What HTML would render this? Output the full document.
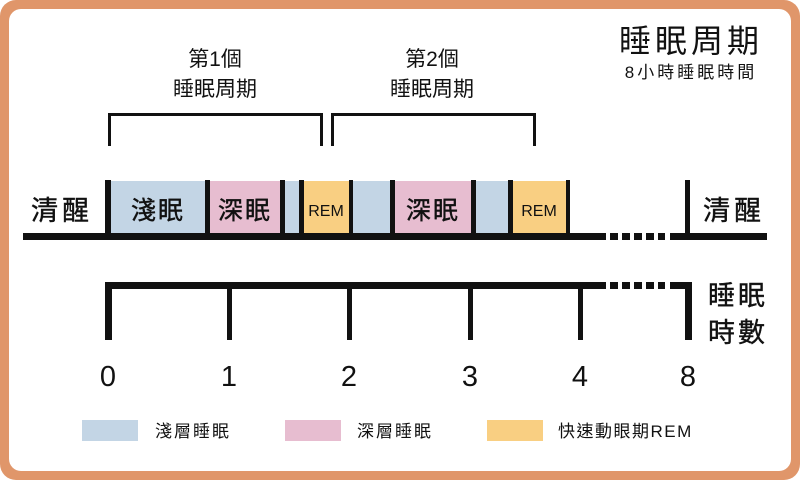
<!DOCTYPE html>
<html><head><meta charset="utf-8"><style>
html,body{margin:0;padding:0;width:800px;height:480px;overflow:hidden;background:#fff}
svg text{font-family:"Liberation Sans","Noto Sans CJK TC",sans-serif;fill:#111}
</style></head><body>
<svg width="800" height="480" xmlns="http://www.w3.org/2000/svg">
<rect x="0" y="0" width="800" height="480" rx="16" fill="#E0966A"/>
<rect x="9" y="9" width="782" height="462" rx="12" fill="#fff"/>
<text x="691" y="52" font-size="32" text-anchor="middle" letter-spacing="4">睡眠周期</text>
<text x="691" y="78" font-size="17" text-anchor="middle" letter-spacing="3">8小時睡眠時間</text>
<text x="215" y="66" font-size="21" text-anchor="middle">第1個</text>
<text x="215" y="96" font-size="21" text-anchor="middle">睡眠周期</text>
<text x="432" y="66" font-size="21" text-anchor="middle">第2個</text>
<text x="432" y="96" font-size="21" text-anchor="middle">睡眠周期</text>
<path d="M109.5 146 V114.5 H321.5 V146" fill="none" stroke="#111" stroke-width="3"/>
<path d="M332.5 146 V114.5 H534.5 V146" fill="none" stroke="#111" stroke-width="3"/>
<rect x="111" y="181" width="94" height="53" fill="#C3D5E5"/>
<rect x="210" y="181" width="70" height="53" fill="#E7BDD0"/>
<rect x="285" y="181" width="14" height="53" fill="#C3D5E5"/>
<rect x="304" y="181" width="45" height="53" fill="#F9CF82"/>
<rect x="353" y="181" width="37" height="53" fill="#C3D5E5"/>
<rect x="395" y="181" width="76" height="53" fill="#E7BDD0"/>
<rect x="476" y="181" width="32" height="53" fill="#C3D5E5"/>
<rect x="513" y="181" width="53" height="53" fill="#F9CF82"/>
<g fill="#111">
<rect x="105" y="180" width="6" height="60"/>
<rect x="205" y="180" width="5" height="56"/>
<rect x="280" y="180" width="5" height="56"/>
<rect x="299" y="180" width="5" height="56"/>
<rect x="349" y="180" width="4" height="56"/>
<rect x="390" y="180" width="5" height="56"/>
<rect x="471" y="180" width="5" height="56"/>
<rect x="508" y="180" width="5" height="56"/>
<rect x="566" y="180" width="4" height="56"/>
<rect x="685" y="180" width="5" height="60"/>
<rect x="23" y="233" width="583" height="7"/>
<rect x="670" y="233" width="97" height="7"/>
<rect x="610" y="233" width="8" height="7"/><rect x="622" y="233" width="8" height="7"/><rect x="634" y="233" width="8" height="7"/><rect x="646" y="233" width="8" height="7"/><rect x="658" y="233" width="7" height="7"/>
<rect x="105" y="282" width="501" height="7"/>
<rect x="105" y="282" width="7" height="58"/>
<rect x="610" y="282" width="8" height="7"/><rect x="622" y="282" width="8" height="7"/><rect x="634" y="282" width="8" height="7"/><rect x="646" y="282" width="8" height="7"/><rect x="658" y="282" width="7" height="7"/>
<rect x="670" y="282" width="22" height="7"/>
<rect x="685" y="282" width="7" height="58"/>
<rect x="227" y="289" width="5" height="51"/>
<rect x="347" y="289" width="5" height="51"/>
<rect x="468" y="289" width="5" height="51"/>
<rect x="578" y="289" width="5" height="51"/>
</g>
<g style="paint-order:stroke" stroke="#111" stroke-width="0.4">
<text x="158" y="219" font-size="25" text-anchor="middle" letter-spacing="2">淺眠</text>
<text x="245" y="219" font-size="25" text-anchor="middle" letter-spacing="2">深眠</text>
<text x="433" y="219" font-size="25" text-anchor="middle" letter-spacing="2">深眠</text>
<text x="62" y="220" font-size="27" text-anchor="middle" letter-spacing="4">清醒</text>
<text x="734" y="220" font-size="27" text-anchor="middle" letter-spacing="4">清醒</text>
<text x="738" y="305" font-size="27" text-anchor="middle" letter-spacing="3">睡眠</text>
<text x="738" y="342" font-size="27" text-anchor="middle" letter-spacing="3">時數</text>
</g>
<text x="326" y="216" font-size="16" text-anchor="middle">REM</text>
<text x="539" y="216" font-size="16" text-anchor="middle">REM</text>
<g font-size="29" text-anchor="middle">
<text x="108" y="386">0</text><text x="229" y="386">1</text><text x="349" y="386">2</text>
<text x="470" y="386">3</text><text x="580" y="386">4</text><text x="688" y="386">8</text>
</g>
<rect x="82" y="420" width="56" height="21" fill="#C3D5E5"/>
<rect x="285" y="420" width="56" height="21" fill="#E7BDD0"/>
<rect x="487" y="420" width="56" height="21" fill="#F9CF82"/>
<text x="155" y="437" font-size="17" letter-spacing="2">淺層睡眠</text>
<text x="357" y="437" font-size="17" letter-spacing="2">深層睡眠</text>
<text x="558" y="437" font-size="17" letter-spacing="1.5">快速動眼期REM</text>
</svg>
</body></html>
